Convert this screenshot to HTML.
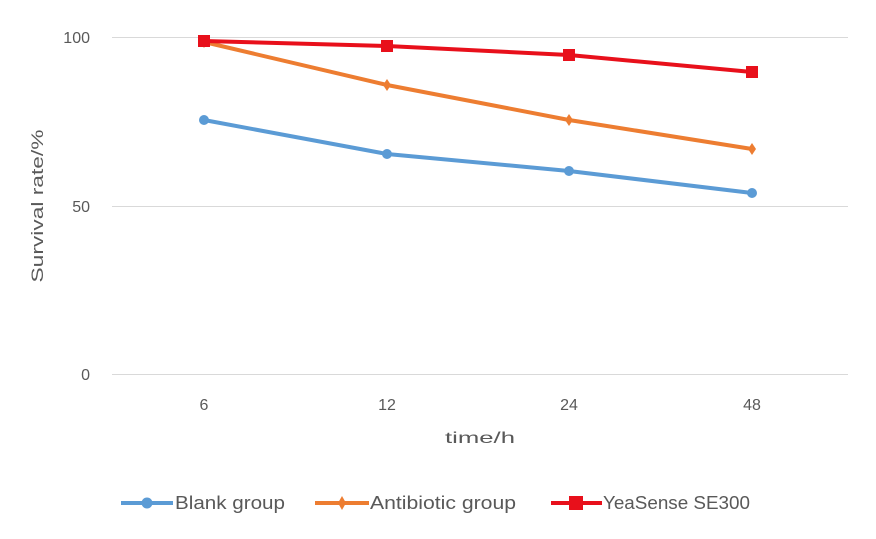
<!DOCTYPE html>
<html><head><meta charset="utf-8"><style>
body{margin:0;background:#fff;}
svg text{font-family:"Liberation Sans",sans-serif;fill:#595959;}
</style></head><body>
<svg width="876" height="534" viewBox="0 0 876 534" xmlns="http://www.w3.org/2000/svg">
<rect width="876" height="534" fill="#fff"/>
<g stroke="#d9d9d9" stroke-width="1">
<line x1="112" y1="37.5" x2="848" y2="37.5"/>
<line x1="112" y1="206.5" x2="848" y2="206.5"/>
<line x1="112" y1="374.5" x2="848" y2="374.5"/>
</g>
<g font-size="16" text-anchor="end">
<text x="90" y="43">100</text>
<text x="90" y="212">50</text>
<text x="90" y="380">0</text>
</g>
<g font-size="16" text-anchor="middle">
<text x="204" y="410">6</text>
<text x="387" y="410">12</text>
<text x="569" y="410">24</text>
<text x="752" y="410">48</text>
<text x="480" y="443" textLength="70" lengthAdjust="spacingAndGlyphs">time/h</text>
</g>
<text font-size="17" text-anchor="middle" transform="translate(43,206) rotate(-90)" textLength="153" lengthAdjust="spacingAndGlyphs">Survival rate/%</text>
<polyline fill="none" stroke="#5b9bd5" stroke-width="4" points="204,120 387,154 569,171 752,193"/>
<g fill="#5b9bd5"><circle cx="204" cy="120" r="5"/><circle cx="387" cy="154" r="5"/><circle cx="569" cy="171" r="5"/><circle cx="752" cy="193" r="5"/></g>
<polyline fill="none" stroke="#ed7d31" stroke-width="4" points="204,42 387,85 569,120 752,149"/>
<g fill="#ed7d31"><path d="M204 36l4 6-4 6-4-6z"/><path d="M387 79l4 6-4 6-4-6z"/><path d="M569 114l4 6-4 6-4-6z"/><path d="M752 143l4 6-4 6-4-6z"/></g>
<polyline fill="none" stroke="#e8101b" stroke-width="4" points="204,41 387,46 569,55 752,72"/>
<g fill="#e8101b"><rect x="198" y="35" width="12" height="12"/><rect x="381" y="40" width="12" height="12"/><rect x="563" y="49" width="12" height="12"/><rect x="746" y="66" width="12" height="12"/></g>
<line x1="121" y1="503" x2="173" y2="503" stroke="#5b9bd5" stroke-width="4"/>
<circle cx="147" cy="503" r="5.5" fill="#5b9bd5"/>
<text x="175" y="509" font-size="18" textLength="110" lengthAdjust="spacingAndGlyphs">Blank group</text>
<line x1="315" y1="503" x2="369" y2="503" stroke="#ed7d31" stroke-width="4"/>
<path d="M342 496l4 7-4 7-4-7z" fill="#ed7d31"/>
<text x="370" y="509" font-size="18" textLength="146" lengthAdjust="spacingAndGlyphs">Antibiotic group</text>
<line x1="551" y1="503" x2="602" y2="503" stroke="#e8101b" stroke-width="4"/>
<rect x="569" y="496" width="14" height="14" fill="#e8101b"/>
<text x="603" y="509" font-size="18" textLength="147" lengthAdjust="spacingAndGlyphs">YeaSense SE300</text>
</svg>
</body></html>
